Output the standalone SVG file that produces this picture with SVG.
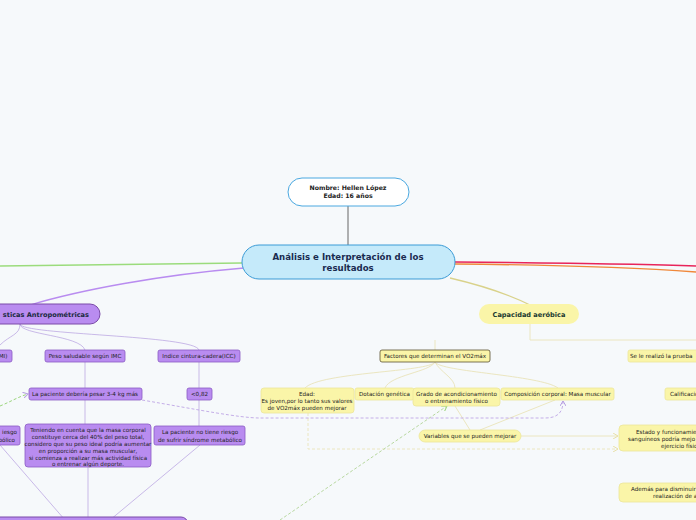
<svg xmlns="http://www.w3.org/2000/svg" width="696" height="520" viewBox="0 0 696 520">
<defs>
<style>
text{font-family:"DejaVu Sans","Liberation Sans",sans-serif;font-size:5.6px;fill:#222;text-anchor:middle}
.p{fill:#b98cf0;stroke:#8a5cc4;stroke-width:0.8}
.y{fill:#faf5a8;stroke:#ece69a;stroke-width:0.8}
.c{fill:none;stroke-width:1}
</style>
<marker id="ag" markerWidth="6" markerHeight="6" refX="5" refY="3" orient="auto"><path d="M0,0L5,3L0,6" fill="none" stroke="#9bd57c"/></marker>
<marker id="ap" markerWidth="6" markerHeight="6" refX="5" refY="3" orient="auto"><path d="M0,0L5,3L0,6" fill="none" stroke="#b59de0"/></marker>
<marker id="ay" markerWidth="6" markerHeight="6" refX="5" refY="3" orient="auto"><path d="M0,0L5,3L0,6" fill="none" stroke="#e8e0a8"/></marker>
</defs>
<rect width="696" height="520" fill="#f6f9fb"/>
<g id="connectors" class="c">
<path d="M348,206V245" stroke="#666"/>
<path d="M242,263C150,264 60,265 0,266" stroke="#9bdc7c" stroke-width="1.3"/>
<path d="M244,268C160,275 80,290 30,305" stroke="#b98cf0" stroke-width="1.3"/>
<path d="M455,262C560,263 640,264 696,266" stroke="#e8245a" stroke-width="1.5"/>
<path d="M455,264C560,265 640,268 696,272" stroke="#f0883a" stroke-width="1.3"/>
<path d="M450,278C480,285 510,295 530,305" stroke="#d9d28a" stroke-width="1.3"/>
<path d="M530,324V340H696" stroke="#ebe6c0"/>
<path d="M435,340V350" stroke="#ebe6c0"/>
<path d="M435,362C430,372 320,372 305,388M435,362C430,372 390,375 385,388M435,362C440,372 455,378 455,388M435,362C440,372 540,375 558,388" stroke="#ebe6c0"/>
<path d="M455,406L470,430M555,400L480,430" stroke="#ebe6c0"/>
<path d="M521,436H618" stroke="#ebe6c0" marker-end="url(#ay)"/>
<path d="M308,413V449H618" stroke="#ebe6c0" stroke-dasharray="3,2" marker-end="url(#ay)"/>
<path d="M280,520L447,406" stroke="#b8d8a0" stroke-dasharray="3,2" marker-end="url(#ag)"/>
<path d="M0,406C10,402 20,396 28,394" stroke="#9bd57c" stroke-dasharray="3,2" marker-end="url(#ap)"/>
<path d="M142,400C200,410 240,418 260,418H545C560,418 563,410 563,401" stroke="#c4aee8" stroke-dasharray="3,2" marker-end="url(#ap)"/>
<path d="M20,324C20,335 10,335 0,345M20,324C20,335 80,335 85,350M20,324C20,335 195,335 199,350" stroke="#b59de0" stroke-width="0.7"/>
<path d="M85,362V388M199,362V388M199,400V426M85,400V424M88,467V520M0,445L65,520M200,445L110,520" stroke="#b59de0" stroke-width="0.7"/>
</g>
<g id="n-nombre"><rect x="288" y="178" width="121" height="28" rx="14" fill="#fff" stroke="#4aa8e0"/><text x="348" y="190" font-weight="bold" style="font-size:6.2px">Nombre: Hellen López</text><text x="348" y="198" font-weight="bold" style="font-size:6.2px">Edad: 16 años</text></g>
<g id="n-central"><rect x="242" y="245" width="213" height="34" rx="17" fill="#c5eafa" stroke="#3b9bd6"/><text x="348" y="260" font-weight="bold" style="font-size:8.6px;fill:#1a2a50">Análisis e Interpretación de los</text><text x="348" y="271" font-weight="bold" style="font-size:8.6px;fill:#1a2a50">resultados</text></g>
<g id="n-antro"><rect x="-20" y="304" width="120" height="20" rx="10" fill="#b98cf0" stroke="#7a4aa8"/><text x="89" y="316.5" font-weight="bold" style="font-size:6.6px;fill:#1a2a40;text-anchor:end">sticas Antropométricas</text></g>
<g id="n-capac"><rect x="479" y="304" width="100" height="20" rx="10" fill="#faf5a8"/><text x="529" y="316.5" font-weight="bold" style="font-size:6.6px;fill:#1a3a30">Capacidad aeróbica</text></g>
<g id="n-imc"><rect x="-10" y="350" width="22" height="12" rx="2" class="p"/><text x="3" y="358">MI)</text></g>
<g id="n-peso"><rect x="45" y="350" width="80" height="12" rx="2" class="p"/><text x="85" y="358">Peso saludable según IMC</text></g>
<g id="n-icc"><rect x="158" y="350" width="82" height="12" rx="2" class="p"/><text x="199" y="358">Indice cintura-cadera(ICC)</text></g>
<g id="n-deberia"><rect x="29" y="388" width="113" height="12" rx="2" class="p"/><text x="85" y="396">La paciente debería pesar 3-4 kg más</text></g>
<g id="n-082"><rect x="187" y="388" width="25" height="12" rx="2" class="p"/><text x="199.5" y="396">&lt;0,82</text></g>
<g id="n-riesgo-l"><rect x="-30" y="426" width="50" height="19" rx="2" class="p"/><text x="17" y="434" style="text-anchor:end">iesgo</text><text x="15" y="441.5" style="text-anchor:end">bólico</text></g>
<g id="n-teniendo"><rect x="25" y="424" width="126" height="43" rx="3" class="p"/><text x="88" y="432">Teniendo en cuenta que la masa corporal</text><text x="88" y="439">constituye cerca del 40% del peso total,</text><text x="88" y="446">considero que su peso ideal podría aumentar</text><text x="88" y="453">en proporción a su masa muscular,</text><text x="88" y="460">si comienza a realizar más actividad física</text><text x="88" y="466">o entrenar algún deporte.</text></g>
<g id="n-noriesgo"><rect x="154" y="426" width="91" height="19" rx="2" class="p"/><text x="200" y="434">La paciente no tiene riesgo</text><text x="200" y="441.5">de sufrir síndrome metabólico</text></g>
<g id="n-bottom"><rect x="-10" y="517" width="198" height="14" rx="7" fill="#b98cf0" stroke="#7a4aa8"/></g>
<g id="n-factores"><rect x="380" y="350" width="110" height="12" rx="2" fill="#faf5a8" stroke="#5a5030" stroke-width="0.8"/><text x="435" y="358">Factores que determinan el VO2máx</text></g>
<g id="n-edad"><rect x="261" y="388" width="93" height="25" rx="3" class="y"/><text x="307" y="396">Edad:</text><text x="307" y="403">Es joven,por lo tanto sus valores</text><text x="307" y="410">de VO2máx pueden mejorar</text></g>
<g id="n-dotacion"><rect x="355" y="388" width="59" height="12" rx="2" class="y"/><text x="384.5" y="396">Dotación genética</text></g>
<g id="n-grado"><rect x="413" y="388" width="87" height="18" rx="3" class="y"/><text x="456.5" y="396">Grado de acondicionamiento</text><text x="456.5" y="403">o entrenamiento físico</text></g>
<g id="n-comp"><rect x="501" y="388" width="113" height="12" rx="2" class="y"/><text x="557.5" y="396">Composición corporal: Masa muscular</text></g>
<g id="n-variables"><rect x="419" y="430" width="102" height="12" rx="6" class="y"/><text x="470" y="438">Variables que se pueden mejorar</text></g>
<g id="n-prueba"><rect x="628" y="350" width="80" height="12" rx="2" class="y"/><text x="630" y="358" style="text-anchor:start">Se le realizó la prueba</text></g>
<g id="n-calif"><rect x="665" y="388" width="40" height="12" rx="2" class="y"/><text x="670" y="396" style="text-anchor:start">Calificació</text></g>
<g id="n-estado"><rect x="619" y="425" width="90" height="26" rx="4" class="y"/><text x="636" y="434" style="text-anchor:start">Estado y funcionamie</text><text x="628" y="441" style="text-anchor:start">sanguíneos  podría mejo</text><text x="661" y="448" style="text-anchor:start">ejercicio físic</text></g>
<g id="n-ademas"><rect x="619" y="483" width="90" height="19" rx="4" class="y"/><text x="631" y="491" style="text-anchor:start">Además para disminuir</text><text x="653" y="498" style="text-anchor:start">realización de a</text></g>
</svg>
